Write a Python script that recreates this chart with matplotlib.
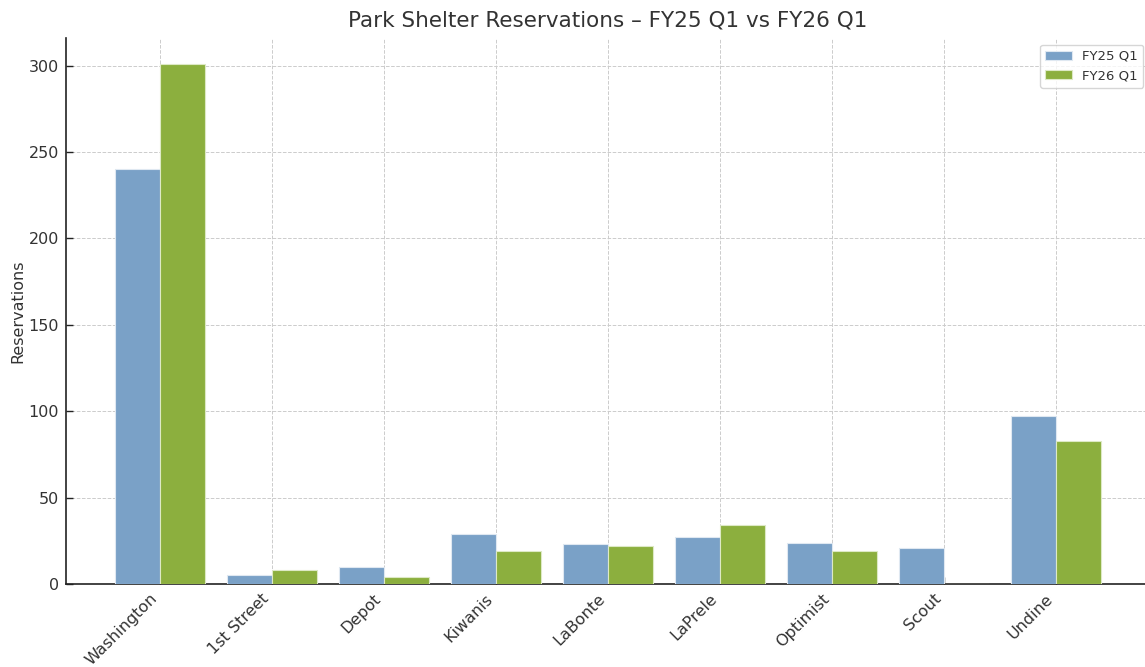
import matplotlib
matplotlib.use("Agg")
import matplotlib.pyplot as plt
import numpy as np

categories = ["Washington", "1st Street", "Depot", "Kiwanis", "LaBonte",
              "LaPrele", "Optimist", "Scout", "Undine"]
fy25 = [240, 5, 10, 29, 23, 27, 24, 21, 97]
fy26 = [301, 8, 4, 19, 22, 34, 19, 0, 83]
series_labels = ["FY25 Q1", "FY26 Q1"]

W, H = 1145, 667
fig = plt.figure(figsize=(W / 100, H / 100), dpi=100)
ax = fig.add_axes([66 / W, (H - 584) / H, (1150 - 66) / W, (584 - 38) / H])

x = np.arange(len(categories))
bw = 0.4
ax.bar(x - bw / 2, fy25, bw, color="#7aa1c7", edgecolor="#dfe8f1", linewidth=0.8,
       label=series_labels[0], zorder=3)
ax.bar(x + bw / 2, fy26, bw, color="#8caf3e", edgecolor="#dde9c5", linewidth=0.8,
       label=series_labels[1], zorder=3)

ax.set_xticks(x)
ax.set_xticklabels(categories, rotation=45, ha="right", fontsize=11.5, color="#333333")
ax.tick_params(axis="both", direction="in", length=5, width=1, color="#222222", pad=5)
ax.tick_params(axis="y", labelsize=11.5, labelcolor="#333333")
ax.set_ylabel("Reservations", fontsize=11.5, color="#333333", labelpad=2)
ax.set_title("Park Shelter Reservations \u2013 FY25 Q1 vs FY26 Q1", fontsize=15.5,
             color="#333333", pad=8)
ax.grid(True, linestyle="--", color="#cccccc", linewidth=0.7, zorder=0)
ax.set_axisbelow(True)
for s in ["top", "right"]:
    ax.spines[s].set_visible(False)
for s in ["left", "bottom"]:
    ax.spines[s].set_color("#222222")
    ax.spines[s].set_linewidth(1.2)
ax.set_xlim(-0.84, 8.84)
ax.set_ylim(0, 316)
leg = ax.legend(loc="upper right", fontsize=9.5, frameon=True, bbox_to_anchor=(1.0, 1.0))
leg.get_frame().set_edgecolor("#cccccc")
for t in leg.get_texts():
    t.set_color("#333333")

fig.savefig("out.png", dpi=100)
